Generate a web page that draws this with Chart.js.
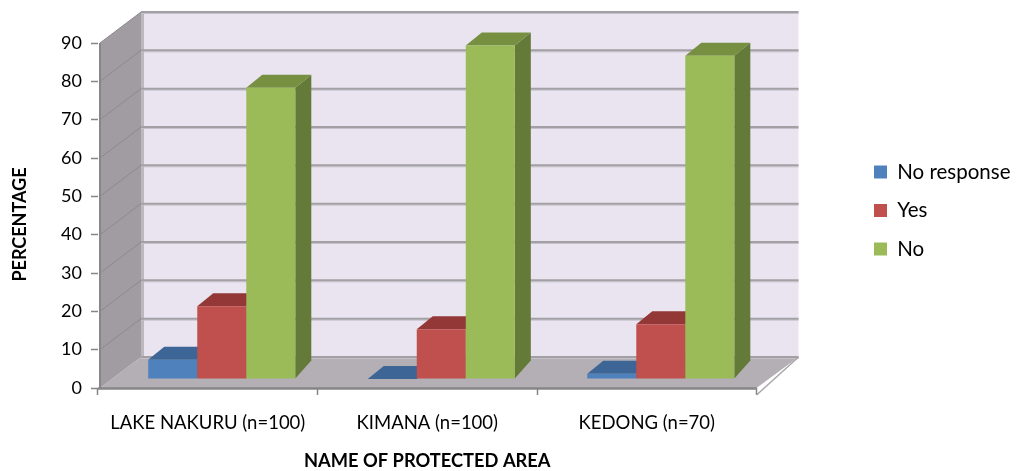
<!DOCTYPE html>
<html lang="en">
<head>
  <meta charset="UTF-8">
  <title>Protected area survey</title>
  <script src="https://cdn.jsdelivr.net/npm/chart.js"></script>
  <style>
    body { margin: 0; background: #fff; }
    canvas { display: block; }
  </style>
</head>
<body>
  <canvas id="grafico" width="1016" height="471"></canvas>

  <script>
    const categorias = ['LAKE NAKURU (n=100)', 'KIMANA (n=100)', 'KEDONG (n=70)'];
    const noResponse = [5, 0, 1.4];
    const yes = [19, 13, 14.3];
    const no = [76, 87, 84.3];
    const tituloX = 'NAME OF PROTECTED AREA';
    const tituloY = 'PERCENTAGE';

    const fonte = 'Lato, sans-serif';

    // Depth of the box the bars stand in
    const paredeX = 41, paredeY = -31;
    // Bars stand part of the way into the box
    const barraX = 14, barraY = -9;
    const fundoX = 16, fundoY = -13, fundoBaseY = -18;

    const faces = [
      { topo: '#3d6696', lado: '#38597f' },
      { topo: '#933836', lado: '#7f3331' },
      { topo: '#778f40', lado: '#647a38' }
    ];

    const poligono = (ctx, pontos, cor) => {
      ctx.fillStyle = cor;
      ctx.beginPath();
      pontos.forEach(([x, y], i) => (i ? ctx.lineTo(x, y) : ctx.moveTo(x, y)));
      ctx.closePath();
      ctx.fill();
    };

    const linha = (ctx, x1, y1, x2, y2, cor, largura) => {
      ctx.strokeStyle = cor;
      ctx.lineWidth = largura;
      ctx.beginPath();
      ctx.moveTo(x1, y1);
      ctx.lineTo(x2, y2);
      ctx.stroke();
    };

    const desenharCaixa = chart => {
      const { ctx, chartArea: a, scales: { y } } = chart;
      const esq = a.left + 2;
      const dir = a.right;
      const base = a.bottom;

      // Back wall
      poligono(ctx, [[esq + paredeX - 1, a.top + paredeY], [dir + paredeX + 1, a.top + paredeY],
        [dir + paredeX + 1, base + paredeY], [esq + paredeX - 1, base + paredeY]], '#e9e4f0');
      // Floor
      poligono(ctx, [[esq, base], [esq + paredeX, base + paredeY], [dir + paredeX + 1, base + paredeY], [dir, base]], '#b3afb5');
      // Side wall
      poligono(ctx, [[esq, a.top], [esq + paredeX, a.top + paredeY], [esq + paredeX, base + paredeY], [esq, base]], '#a09ca1');
      linha(ctx, esq + paredeX + 1.5, a.top + paredeY, esq + paredeX + 1.5, base + paredeY, '#bcb9bd', 3);

      // Gridlines across the back wall and down the side wall
      y.ticks.forEach(t => {
        const py = y.getPixelForValue(t.value);
        if (t.value > 0) {
          linha(ctx, esq, py, esq + paredeX, py + paredeY, '#8d898e', 1);
        }
        linha(ctx, esq + paredeX, py + paredeY + 1.5, dir + paredeX + 1, py + paredeY + 1.5, '#c4c1c8', 1);
        linha(ctx, esq + paredeX, py + paredeY, dir + paredeX + 1, py + paredeY, '#a3a0a5', 2);
      });

      // Edges of the box
      linha(ctx, esq, a.top, esq, base, '#8a8688', 2);
      linha(ctx, a.left, base + 0.5, dir, base + 0.5, '#868686', 2.5);
      linha(ctx, dir, base + 7, dir + paredeX + 1, base + paredeY, '#a9a6a9', 1.5);
    };

    const desenharFaces = (ctx, meta, cor) => {
      meta.data.forEach(barra => {
        const esq = barra.x - barra.width / 2;
        const dir = barra.x + barra.width / 2;
        poligono(ctx, [[dir, barra.y], [dir + fundoX, barra.y + fundoY],
          [dir + fundoX, barra.base + fundoBaseY], [dir, barra.base]], cor.lado);
        poligono(ctx, [[esq, barra.y], [esq + fundoX, barra.y + fundoY],
          [dir + fundoX, barra.y + fundoY], [dir, barra.y]], cor.topo);
      });
    };

    const caixa3d = {
      id: 'caixa3d',
      afterLayout(chart) {
        // Legend sits further right than the layout would put it
        chart.legend.left = 856;
        chart.legend.right = 1016;
        chart.legend.top = 0;
        chart.legend.bottom = 421;
      },
      beforeDatasetsDraw(chart) {
        const { ctx } = chart;
        ctx.save();
        desenharCaixa(chart);
        ctx.translate(barraX, barraY);
        // First series goes first, each next one stands in front of it
        chart.getSortedVisibleDatasetMetas().forEach(meta => {
          desenharFaces(ctx, meta, faces[meta.index]);
          meta.controller.draw();
        });
        ctx.restore();
        return false;
      },
      afterDraw(chart) {
        // Vertical axis title
        const { ctx } = chart;
        ctx.save();
        ctx.translate(20, 224.5);
        ctx.rotate(-Math.PI / 2);
        ctx.font = 'bold 18px ' + fonte;
        ctx.fillStyle = '#000';
        ctx.textAlign = 'center';
        ctx.textBaseline = 'middle';
        ctx.fillText(tituloY, 0, 0);
        ctx.restore();
      }
    };

    new Chart(document.getElementById('grafico'), {
      type: 'bar',
      data: {
        labels: categorias,
        datasets: [
          { label: 'No response', data: noResponse, backgroundColor: '#4f81bd' },
          { label: 'Yes', data: yes, backgroundColor: '#c0504d' },
          { label: 'No', data: no, backgroundColor: '#9bbb59' }
        ]
      },
      plugins: [caixa3d],
      options: {
        responsive: false,
        animation: false,
        categoryPercentage: 0.67,
        barPercentage: 1,
        layout: { padding: { top: 43, right: 95 } },
        plugins: {
          tooltip: { enabled: false },
          legend: {
            position: 'right',
            labels: {
              boxWidth: 13,
              boxHeight: 13,
              padding: 18,
              color: '#000',
              font: { family: fonte, size: 20.5 }
            }
          }
        },
        scales: {
          x: {
            afterFit: s => { s.height = 83; },
            grid: { drawOnChartArea: false, tickLength: 7, tickColor: '#868686', tickWidth: 1.5 },
            border: { display: false },
            ticks: { color: '#000', font: { family: fonte, size: 18.5 }, padding: 17, maxRotation: 0 },
            title: { display: true, text: tituloX, color: '#000', font: { family: fonte, size: 18.3, weight: 'bold' }, padding: { top: 0, bottom: -1 } }
          },
          y: {
            min: 0,
            max: 90,
            afterFit: s => { s.width = 98; },
            grid: { drawOnChartArea: false, tickLength: 7, tickColor: '#868686', tickWidth: 1.5 },
            border: { display: false },
            ticks: { stepSize: 10, color: '#000', font: { family: fonte, size: 18 }, padding: 9 }
          }
        }
      }
    });
  </script>
</body>
</html>
